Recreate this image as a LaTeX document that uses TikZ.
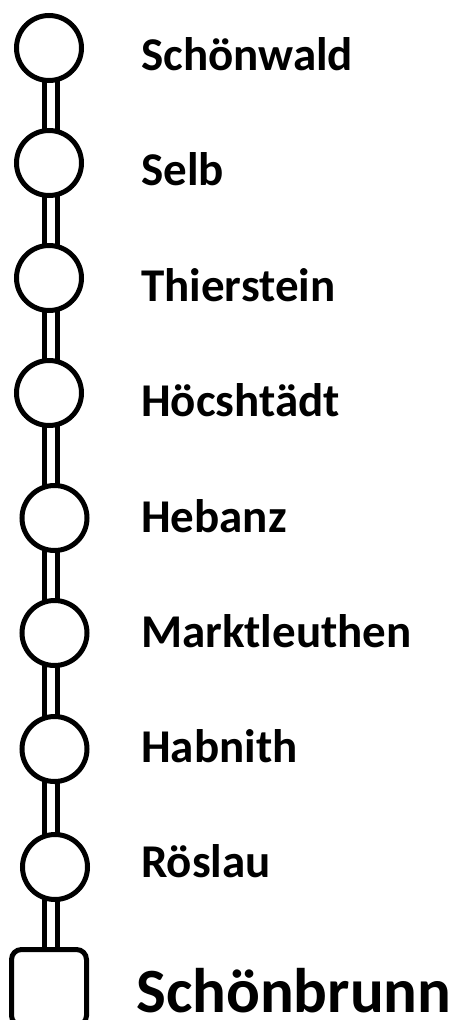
\documentclass[tikz,border=0pt]{standalone}
\usepackage{fontspec}
\setmainfont{Carlito}
\usetikzlibrary{backgrounds}
\tikzset{
  stop/.style={circle, draw=black, fill=white, line width=5pt, inner sep=0pt, minimum size=65pt},
  term/.style={rectangle, draw=black, fill=white, line width=5pt, rounded corners=10pt, inner sep=0pt, minimum width=75pt, minimum height=76pt},
  lbl/.style={anchor=base west, inner sep=0pt, font=\fontsize{47}{50}\selectfont\bfseries},
  biglbl/.style={anchor=base west, inner sep=0pt, font=\fontsize{63}{68}\selectfont\bfseries},
  rail/.style={draw=black, line width=5pt, double=white, double distance=8pt}
}
\begin{document}
\begin{tikzpicture}[x=1pt,y=-1pt]
\useasboundingbox (0,0) rectangle (462,1020);
\coordinate (rx) at (51,0);
\node[stop] (c1) at (49,48) {};
\node[stop] (c2) at (49,163) {};
\node[stop] (c3) at (49,278) {};
\node[stop] (c4) at (49,393) {};
\node[stop] (c5) at (54.5,518) {};
\node[stop] (c6) at (54.5,633) {};
\node[stop] (c7) at (54.5,749) {};
\node[stop] (c8) at (55,867) {};
\node[term] (sq) at (49,987.5) {};
\node[lbl] (l1) at (141,70) {Schönwald};
\node[lbl] (l2) at (141,185) {Selb};
\node[lbl] (l3) at (141,301) {Thierstein};
\node[lbl] (l4) at (141,416) {Höcshtädt};
\node[lbl] (l5) at (141,532) {Hebanz};
\node[lbl] (l6) at (141,647) {Marktleuthen};
\node[lbl] (l7) at (141,762) {Habnith};
\node[lbl] (l8) at (141,877) {Röslau};
\node[biglbl] (l9) at (136,1012) {Schönbrunn};
\begin{scope}[on background layer]
\draw[rail] (c1.center -| rx) -- (c2.center -| rx);
\draw[rail] (c2.center -| rx) -- (c3.center -| rx);
\draw[rail] (c3.center -| rx) -- (c4.center -| rx);
\draw[rail] (c4.center -| rx) -- (c5.center -| rx);
\draw[rail] (c5.center -| rx) -- (c6.center -| rx);
\draw[rail] (c6.center -| rx) -- (c7.center -| rx);
\draw[rail] (c7.center -| rx) -- (c8.center -| rx);
\draw[rail] (c8.center -| rx) -- (sq.center -| rx);
\end{scope}
\end{tikzpicture}
\end{document}
